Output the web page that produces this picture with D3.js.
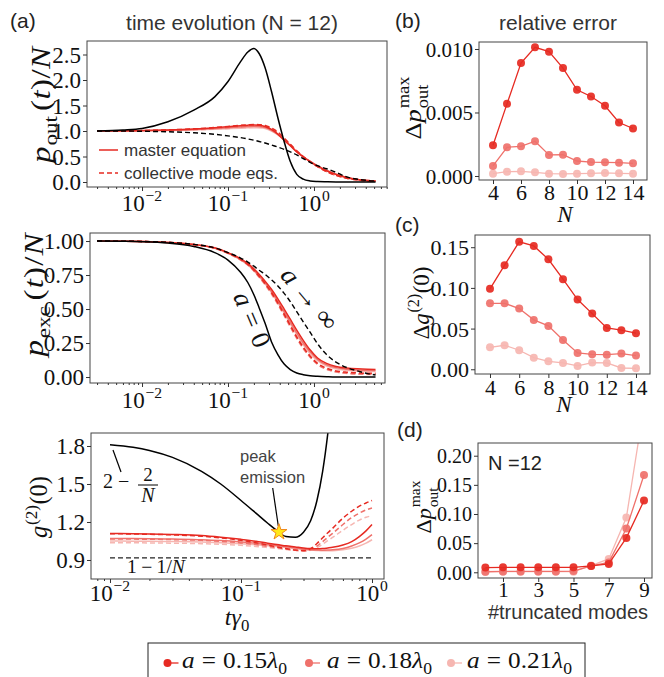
<!DOCTYPE html>
<html><head><meta charset="utf-8">
<script src="https://cdn.jsdelivr.net/npm/d3@7"></script>
<style>body{margin:0;background:#fff}</style>
</head><body>
<script>
// ---------------- DATA ----------------
// time grid for panels (a) top and middle
const T = [0.003,0.006,0.01,0.02,0.04,0.07,0.1,0.14,0.17,0.2,0.23,0.27,0.32,0.38,0.45,0.53,0.63,0.75,0.9,1.1,1.4,1.8,2.4,3.2,4.2,5.2];
// p_out(t)/N
const poutA0  = [1.00,1.02,1.05,1.18,1.41,1.67,1.97,2.36,2.55,2.62,2.52,2.24,1.78,1.26,0.79,0.40,0.15,0.055,0.02,0.008,0.003,0,0,0,0,0];
const poutInf = [1.0,1.0,0.995,0.985,0.965,0.935,0.905,0.87,0.845,0.82,0.795,0.765,0.725,0.685,0.64,0.59,0.53,0.46,0.385,0.32,0.26,0.19,0.10,0.055,0.03,0.018];
const poutMe15 = [1.0,1.003,1.008,1.02,1.04,1.065,1.085,1.105,1.115,1.12,1.115,1.09,1.03,0.94,0.82,0.71,0.59,0.49,0.40,0.31,0.22,0.15,0.09,0.05,0.03,0.02];
const poutCm15 = [1.0,1.003,1.008,1.021,1.042,1.068,1.09,1.11,1.12,1.127,1.125,1.11,1.06,0.98,0.86,0.74,0.61,0.50,0.40,0.30,0.205,0.13,0.075,0.04,0.022,0.013];
const poutMe18 = [1.0,1.002,1.006,1.015,1.03,1.05,1.065,1.08,1.088,1.092,1.088,1.068,1.015,0.935,0.825,0.715,0.595,0.495,0.405,0.315,0.225,0.152,0.09,0.05,0.03,0.02];
const poutCm18 = [1.0,1.002,1.006,1.016,1.032,1.052,1.068,1.085,1.095,1.10,1.098,1.085,1.04,0.965,0.85,0.735,0.605,0.495,0.40,0.30,0.205,0.13,0.075,0.04,0.022,0.013];
const poutMe21 = [1.0,1.001,1.004,1.01,1.02,1.035,1.045,1.055,1.062,1.065,1.062,1.047,1.0,0.925,0.82,0.715,0.6,0.5,0.41,0.32,0.23,0.155,0.092,0.05,0.03,0.02];
const poutCm21 = [1.0,1.001,1.004,1.011,1.022,1.037,1.048,1.06,1.068,1.072,1.07,1.06,1.02,0.95,0.84,0.73,0.605,0.495,0.40,0.30,0.205,0.13,0.075,0.04,0.022,0.013];
// p_exc(t)/N
const pexcA0  = [1.0,0.998,0.995,0.985,0.96,0.915,0.86,0.77,0.695,0.605,0.51,0.395,0.26,0.165,0.095,0.055,0.03,0.017,0.009,0.005,0.002,0,0,0,0,0];
const pexcInf = [1.0,0.999,0.997,0.99,0.975,0.95,0.915,0.875,0.845,0.815,0.785,0.755,0.715,0.67,0.615,0.555,0.48,0.405,0.33,0.245,0.165,0.11,0.07,0.045,0.025,0.015];
const pexcMe15 = [1.0,0.999,0.997,0.99,0.975,0.95,0.915,0.87,0.835,0.795,0.755,0.705,0.645,0.575,0.50,0.425,0.345,0.27,0.20,0.14,0.10,0.078,0.066,0.06,0.057,0.056];
const pexcMe18 = [1.0,0.999,0.997,0.99,0.974,0.948,0.912,0.865,0.828,0.787,0.745,0.693,0.63,0.558,0.48,0.405,0.325,0.25,0.185,0.13,0.09,0.069,0.057,0.051,0.048,0.047];
const pexcMe21 = [1.0,0.999,0.997,0.99,0.974,0.947,0.91,0.862,0.824,0.782,0.738,0.685,0.62,0.545,0.468,0.39,0.31,0.236,0.172,0.12,0.08,0.06,0.049,0.043,0.041,0.04];
const pexcCm15 = [1.0,0.999,0.997,0.99,0.974,0.948,0.912,0.865,0.828,0.786,0.742,0.688,0.622,0.545,0.463,0.38,0.295,0.22,0.155,0.1,0.065,0.045,0.035,0.03,0.028,0.027];
const pexcCm18 = [1.0,0.999,0.997,0.99,0.974,0.947,0.91,0.862,0.825,0.782,0.737,0.682,0.615,0.537,0.455,0.372,0.288,0.212,0.148,0.094,0.058,0.038,0.028,0.023,0.021,0.02];
const pexcCm21 = [1.0,0.999,0.997,0.99,0.973,0.946,0.908,0.86,0.822,0.779,0.733,0.677,0.61,0.532,0.45,0.367,0.283,0.208,0.145,0.092,0.056,0.036,0.026,0.021,0.019,0.018];
// g2(0) time grid and curves
const T3 = [0.01,0.015,0.02,0.03,0.05,0.07,0.1,0.13,0.16,0.195,0.22,0.26,0.3,0.34,0.38,0.42,0.46,0.5,0.6,0.7,0.8,0.9,1.0];
const g2A0  = [1.81,1.79,1.765,1.71,1.60,1.50,1.37,1.27,1.19,1.12,1.085,1.08,1.12,1.21,1.37,1.60,1.90,2.25,null,null,null,null,null];
const g2Me15 = [1.11,1.108,1.106,1.102,1.093,1.08,1.063,1.048,1.033,1.02,1.012,1.003,0.995,0.99,0.988,0.99,0.995,1.0,1.018,1.045,1.085,1.13,1.18];
const g2Cm15 = [1.108,1.105,1.103,1.098,1.088,1.075,1.055,1.037,1.018,1.0,0.99,0.978,0.975,0.99,1.03,1.075,1.115,1.15,1.23,1.285,1.325,1.35,1.37];
const g2Me18 = [1.07,1.069,1.068,1.065,1.06,1.053,1.042,1.032,1.022,1.012,1.005,0.995,0.987,0.981,0.978,0.977,0.978,0.98,0.99,1.01,1.035,1.065,1.10];
const g2Cm18 = [1.066,1.065,1.064,1.061,1.055,1.047,1.035,1.022,1.008,0.995,0.987,0.977,0.972,0.98,1.01,1.045,1.08,1.11,1.18,1.235,1.27,1.295,1.31];
const g2Me21 = [1.05,1.049,1.048,1.046,1.042,1.037,1.029,1.021,1.013,1.004,0.998,0.99,0.983,0.978,0.975,0.973,0.973,0.974,0.98,0.992,1.01,1.033,1.06];
const g2Cm21 = [1.037,1.036,1.035,1.033,1.029,1.024,1.016,1.007,0.998,0.989,0.983,0.976,0.972,0.976,0.997,1.025,1.053,1.078,1.135,1.18,1.215,1.237,1.25];
const g2UncT = [0.01, 1.0];
const g2Unc  = [0.917, 0.917];          // 1 - 1/N, N = 12
const peakT = 0.195, peakG2 = 1.12;     // peak emission marker
// panel (b): relative error of p_out max vs N
const Nvals = [4,5,6,7,8,9,10,11,12,13,14];
const dpout15 = [0.00242,0.00568,0.00889,0.01013,0.00979,0.0085,0.00679,0.00626,0.00553,0.00421,0.00374];
const dpout18 = [0.00079,0.00226,0.00234,0.00274,0.00166,0.00168,0.00118,0.0011,0.00108,0.00105,0.0010];
const dpout21 = [0.00018,0.00034,0.00037,0.00029,0.00018,0.00016,0.00018,0.00021,0.00024,0.00021,0.00018];
// panel (c): relative error of g2(0) vs N
const dg2_15 = [0.0988,0.1279,0.1566,0.1516,0.1352,0.1107,0.0857,0.0684,0.0508,0.048,0.0443];
const dg2_18 = [0.0811,0.0811,0.0746,0.0607,0.0533,0.036,0.0201,0.0184,0.018,0.0193,0.0168];
const dg2_21 = [0.027,0.0295,0.0234,0.0143,0.0098,0.0078,0.0041,0.0082,0.0078,0.0016,0.0012];
// panel (d): error vs number of truncated modes (N = 12)
const modes = [0,1,2,3,4,5,6,7,8,9];
const dtr15 = [0.008,0.0085,0.0085,0.0085,0.0085,0.0085,0.011,0.0143,0.059,0.123];
const dtr18 = [0.001,0.0015,0.0015,0.0015,0.0015,0.002,0.011,0.017,0.075,0.167];
const dtr21 = [0.0005,0.001,0.001,0.001,0.001,0.001,0.0115,0.023,0.094,0.285];
// tick values
const logExps = [-2,-1,0];
const yT1 = [0,0.5,1.0,1.5,2.0,2.5];
const yT2 = [0,0.25,0.5,0.75,1.0];
const yT3 = [0.9,1.2,1.5,1.8];
const yTb = [0,0.005,0.010];
const yTc = [0,0.05,0.10,0.15];
const yTd = [0,0.05,0.10,0.15,0.20];
const xTbc = [4,6,8,10,12,14];
const xTd = [1,3,5,7,9];
const legendA = ['0.15','0.18','0.21'];

// ---------------- STYLE / LAYOUT ----------------
const W=664,H=677;
const SERIF='"Liberation Serif", "DejaVu Serif", serif';
const SANS='"Liberation Sans", "DejaVu Sans", sans-serif';
const C15='#e62a22', C18='#ef716b', C21='#f6b6b1';
const INK='#111', GRAY='#333';

const svg=d3.select('body').append('svg').attr('width',W).attr('height',H);
const defs=svg.append('defs');
let clipN=0;

function mlayout(g,pieces,size,fam,extra){
  g.selectAll('text').remove();
  let cx=0,last=0,first=true;
  for(const p of pieces){
    const t=g.append('text').style('font-family',p.f||fam).style('font-size',(size*(p.r||1))+'px')
      .style('font-style',p.i?'italic':'normal').attr('y',(p.dy||0)*size).text(p.t);
    let x0;
    if(p.stack) x0=last; else {x0=cx+(p.g||0)*size+(first?0:extra); last=x0;}
    first=false;
    t.attr('x',x0);
    cx=Math.max(cx,x0+t.node().getComputedTextLength());
  }
  return cx;
}
function mathText(parent,o){
  const outer=parent.append('g').attr('transform',`translate(${o.x},${o.y}) rotate(${o.rot||0})`).attr('fill',o.fill||INK);
  const inner=outer.append('g');
  const fam=o.fam||SERIF;
  let size=o.size;
  let w=mlayout(inner,o.pieces,size,fam,0), sx=1;
  if(o.target){
    let ratio=o.target/w;
    if(ratio>1.1){
      size=size*Math.min(ratio,1.1); w=mlayout(inner,o.pieces,size,fam,0); ratio=o.target/w;
      if(ratio>1.2){
        sx=1.2; const n=o.pieces.filter(p=>!p.stack).length-1;
        w=mlayout(inner,o.pieces,size,fam,(o.target/sx-w)/Math.max(n,1));
      } else sx=ratio;
    } else sx=ratio;
  }
  const frac=o.anchor==='start'?0:o.anchor==='end'?1:0.5;
  inner.attr('transform',`scale(${sx},1) translate(${-w*frac},0)`);
  return outer;
}
function makePanel(p){
  const x=(p.log?d3.scaleLog():d3.scaleLinear()).domain(p.xd).range([p.x0,p.x1]);
  const y=d3.scaleLinear().domain(p.yd).range([p.y1,p.y0]);
  const id='clip'+(clipN++);
  defs.append('clipPath').attr('id',id).append('rect').attr('x',p.x0).attr('y',p.y0).attr('width',p.x1-p.x0).attr('height',p.y1-p.y0);
  const plot=svg.append('g').attr('clip-path',`url(#${id})`);
  return {x,y,plot,p};
}
function frame(P){
  svg.append('rect').attr('x',P.p.x0).attr('y',P.p.y0).attr('width',P.p.x1-P.p.x0).attr('height',P.p.y1-P.p.y0)
    .attr('fill','none').attr('stroke','#444').attr('stroke-width',1);
}
function styleTicks(g,fs){
  g.select('.domain').remove();
  g.selectAll('line').attr('stroke','#333');
  g.selectAll('text').style('font-family',SERIF).style('font-size',fs+'px').attr('fill',INK);
}
function yAxis(P,vals,fmt,fs){
  const g=svg.append('g').attr('transform',`translate(${P.p.x0},0)`)
    .call(d3.axisLeft(P.y).tickValues(vals).tickFormat(fmt).tickSize(4).tickPadding(2));
  styleTicks(g,fs);
  g.selectAll('text').attr('dy','0.34em');
}
function xAxisLin(P,vals,fs,base){
  const g=svg.append('g').attr('transform',`translate(0,${P.p.y1})`)
    .call(d3.axisBottom(P.x).tickValues(vals).tickFormat(d3.format('d')).tickSize(4));
  styleTicks(g,fs);
  g.selectAll('text').attr('y',base-P.p.y1).attr('dy',0);
}
function xAxisLog(P,base){
  const [a,b]=P.x.domain();
  const minors=[];
  for(let e=Math.floor(Math.log10(a));e<=Math.ceil(Math.log10(b));e++)
    for(let k=2;k<=9;k++){const v=k*Math.pow(10,e); if(v>=a&&v<=b) minors.push(v);}
  const majors=logExps.map(e=>Math.pow(10,e));
  const g1=svg.append('g').attr('transform',`translate(0,${P.p.y1})`)
    .call(d3.axisBottom(P.x).tickValues(minors).tickFormat('').tickSize(2));
  const g2=svg.append('g').attr('transform',`translate(0,${P.p.y1})`)
    .call(d3.axisBottom(P.x).tickValues(majors).tickFormat('').tickSize(4));
  [g1,g2].forEach(g=>{g.select('.domain').remove();g.selectAll('line').attr('stroke','#333');});
  logExps.forEach(e=>{
    mathText(svg,{x:P.x(Math.pow(10,e)),y:base,size:23,anchor:'middle',
      pieces:[{t:'10'},{t:(e<0?'\u2212':'')+Math.abs(e),r:0.68,dy:-0.45,g:0.03}]});
  });
}
function curve(P,xs,ys,color,dash,w){
  P.plot.append('path').datum(d3.zip(xs,ys))
    .attr('d',d3.line().defined(d=>d[1]!=null).x(d=>P.x(d[0])).y(d=>P.y(d[1])).curve(d3.curveMonotoneX))
    .attr('fill','none').attr('stroke',color).attr('stroke-width',w||1.5)
    .attr('stroke-dasharray',dash?'5,3':null);
}
function series(P,xs,ys,color){
  const data=d3.zip(xs,ys);
  P.plot.append('path').datum(data).attr('d',d3.line().x(d=>P.x(d[0])).y(d=>P.y(d[1])))
    .attr('fill','none').attr('stroke',color).attr('stroke-width',1.3);
  P.plot.selectAll(null).data(data).join('circle').attr('cx',d=>P.x(d[0])).attr('cy',d=>P.y(d[1]))
    .attr('r',4).attr('fill',color).attr('fill-opacity',0.92);
}
function label(x,y,txt,fs,opts={}){
  return svg.append('text').attr('x',x).attr('y',y).style('font-family',opts.fam||SANS).style('font-size',fs+'px')
    .attr('fill',opts.fill||GRAY).attr('text-anchor',opts.anchor||'start').text(txt);
}

// ---------------- PANEL (a) top: p_out ----------------
const P1=makePanel({log:true,x0:87,x1:387,y0:41,y1:187,xd:[Math.pow(10,-2.64),Math.pow(10,0.849)],yd:[-0.098,2.765]});
curve(P1,T,poutMe21,C21); curve(P1,T,poutCm21,C21,true);
curve(P1,T,poutMe18,C18); curve(P1,T,poutCm18,C18,true);
curve(P1,T,poutMe15,C15); curve(P1,T,poutCm15,C15,true);
curve(P1,T,poutInf,'#000',true,1.4);
curve(P1,T,poutA0,'#000',false,1.5);
frame(P1); yAxis(P1,yT1,d3.format('.1f'),23); xAxisLog(P1,211);
svg.append('line').attr('x1',99).attr('x2',118).attr('y1',150).attr('y2',150).attr('stroke',C15).attr('stroke-width',1.5);
svg.append('line').attr('x1',99).attr('x2',118).attr('y1',173).attr('y2',173).attr('stroke',C15).attr('stroke-width',1.5).attr('stroke-dasharray','5,3');
label(124,156,'master equation',17);
label(124,179,'collective mode eqs.',17);
mathText(svg,{x:50,y:105,rot:-90,size:25,target:116,anchor:'middle',
  pieces:[{t:'p',i:1},{t:'out',r:0.7,dy:0.25,g:0.02},{t:'(',g:0.14},{t:'t',i:1},{t:')'},{t:'/'},{t:'N',i:1}]});

// ---------------- PANEL (a) middle: p_exc ----------------
const P2=makePanel({log:true,x0:90,x1:385,y0:233,y1:383,xd:[Math.pow(10,-2.605),Math.pow(10,0.826)],yd:[-0.044,1.059]});
curve(P2,T,pexcMe21,C21); curve(P2,T,pexcCm21,C21,true);
curve(P2,T,pexcMe18,C18); curve(P2,T,pexcCm18,C18,true);
curve(P2,T,pexcMe15,C15); curve(P2,T,pexcCm15,C15,true);
curve(P2,T,pexcInf,'#000',true,1.4);
curve(P2,T,pexcA0,'#000',false,1.5);
frame(P2); yAxis(P2,yT2,d3.format('.2f'),23); xAxisLog(P2,408);
mathText(svg,{x:43,y:295,rot:-90,size:25,target:123,anchor:'middle',
  pieces:[{t:'p',i:1},{t:'exc',r:0.7,dy:0.25,g:0.02},{t:'(',g:0.14},{t:'t',i:1},{t:')'},{t:'/'},{t:'N',i:1}]});
mathText(svg,{x:244,y:323,rot:67,size:24,target:58,anchor:'middle',
  pieces:[{t:'a',i:1},{t:'=',g:0.3},{t:'0',g:0.3}]});
mathText(svg,{x:303,y:304,rot:50,size:26,target:74,anchor:'middle',
  pieces:[{t:'a',i:1},{t:'\u2192',g:0.2},{t:'\u221E',g:0.2}]});

// ---------------- PANEL (a) bottom: g2(0) ----------------
const P3=makePanel({log:true,x0:91,x1:384,y0:433,y1:579,xd:[Math.pow(10,-2.145),Math.pow(10,0.0916)],yd:[0.75,1.9026]});
curve(P3,g2UncT,g2Unc,'#222',true,1.4);
curve(P3,T3,g2Me21,C21); curve(P3,T3,g2Cm21,C21,true);
curve(P3,T3,g2Me18,C18); curve(P3,T3,g2Cm18,C18,true);
curve(P3,T3,g2Me15,C15); curve(P3,T3,g2Cm15,C15,true);
curve(P3,T3,g2A0,'#000',false,1.5);
frame(P3); yAxis(P3,yT3,d3.format('.1f'),23); xAxisLog(P3,601);
mathText(svg,{x:47,y:507,rot:-90,size:25,target:62,anchor:'middle',
  pieces:[{t:'g',i:1},{t:'(2)',r:0.7,dy:-0.42,g:0.03},{t:'(0)',g:0.02}]});
mathText(svg,{x:237,y:625,size:24,anchor:'middle',pieces:[{t:'t',i:1},{t:'\u03B3',i:1},{t:'0',r:0.7,dy:0.25}]});
// annotations
svg.append('line').attr('x1',113).attr('y1',450).attr('x2',121).attr('y2',472).attr('stroke','#000').attr('stroke-width',1.2);
mathText(svg,{x:103,y:488,size:20,anchor:'start',pieces:[{t:'2'},{t:'\u2212',g:0.25}]});
mathText(svg,{x:148,y:481,size:19,anchor:'middle',pieces:[{t:'2'}]});
svg.append('line').attr('x1',138).attr('x2',158).attr('y1',485).attr('y2',485).attr('stroke','#000').attr('stroke-width',1);
mathText(svg,{x:148,y:502,size:20,anchor:'middle',pieces:[{t:'N',i:1}]});
mathText(svg,{x:127,y:573,size:18,target:58,anchor:'start',
  pieces:[{t:'1'},{t:'\u2212',g:0.22},{t:'1',g:0.22},{t:'/'},{t:'N',i:1}]});
label(240,462,'peak',16.5,{fill:'#444'});
label(240,483,'emission',16.5,{fill:'#444'});
svg.append('line').attr('x1',272.7).attr('y1',488).attr('x2',278.3).attr('y2',526).attr('stroke','#000').attr('stroke-width',1.2);
svg.append('path').attr('d',d3.symbol(d3.symbolStar,80)()).attr('transform',`translate(${P3.x(peakT)},${P3.y(peakG2)})`)
  .attr('fill','#ffe81a').attr('stroke','#f08a1c').attr('stroke-width',1);

// ---------------- PANEL (b) ----------------
const Pb=makePanel({x0:479,x1:647,y0:42,y1:180,xd:[3,15],yd:[-0.000315,0.01055]});
series(Pb,Nvals,dpout21,C21); series(Pb,Nvals,dpout18,C18); series(Pb,Nvals,dpout15,C15);
frame(Pb); yAxis(Pb,yTb,d3.format('.3f'),21); xAxisLin(Pb,xTbc,22,200);
mathText(svg,{x:421,y:108,rot:-90,size:24,target:63,anchor:'middle',
  pieces:[{t:'\u0394'},{t:'p',i:1},{t:'max',r:0.7,dy:-0.5,g:0.04},{t:'out',r:0.7,dy:0.3,stack:1}]});
mathText(svg,{x:565,y:222,size:23,anchor:'middle',pieces:[{t:'N',i:1}]});

// ---------------- PANEL (c) ----------------
const Pc=makePanel({x0:475,x1:650,y0:235,y1:374,xd:[2.973,14.96],yd:[-0.0058,0.165]});
series(Pc,Nvals,dg2_21,C21); series(Pc,Nvals,dg2_18,C18); series(Pc,Nvals,dg2_15,C15);
frame(Pc); yAxis(Pc,yTc,d3.format('.2f'),22); xAxisLin(Pc,xTbc,22,395);
mathText(svg,{x:429,y:303,rot:-90,size:24,target:73,anchor:'middle',
  pieces:[{t:'\u0394'},{t:'g',i:1},{t:'(2)',r:0.7,dy:-0.42,g:0.03},{t:'(0)',g:0.02}]});
mathText(svg,{x:564,y:412,size:23,anchor:'middle',pieces:[{t:'N',i:1}]});

// ---------------- PANEL (d) ----------------
const Pd=makePanel({x0:478,x1:652,y0:443,y1:578,xd:[-0.418,9.454],yd:[-0.0098,0.2218]});
series(Pd,modes,dtr21,C21); series(Pd,modes,dtr18,C18); series(Pd,modes,dtr15,C15);
frame(Pd); yAxis(Pd,yTd,d3.format('.2f'),20); xAxisLin(Pd,xTd,21,597);
mathText(svg,{x:431,y:507,rot:-90,size:22,target:53,anchor:'middle',
  pieces:[{t:'\u0394'},{t:'p',i:1},{t:'max',r:0.7,dy:-0.5,g:0.04},{t:'out',r:0.7,dy:0.3,stack:1}]});
label(488,470,'N =12',20,{fill:'#222'});
label(568,619,'#truncated modes',20,{anchor:'middle'});

// ---------------- titles ----------------
label(10,28,'(a)',21,{fill:'#222'});
label(232,30,'time evolution (N = 12)',21,{anchor:'middle'});
label(395,28,'(b)',21,{fill:'#222'});
label(558,30,'relative error',21,{anchor:'middle'});
label(395,232,'(c)',21,{fill:'#222'});
label(397,437,'(d)',21,{fill:'#222'});

// ---------------- legend ----------------
svg.append('rect').attr('x',148).attr('y',643).attr('width',437).attr('height',42).attr('fill','none').attr('stroke','#222').attr('stroke-width',1);
const legCols=[C15,C18,C21], legDot=[167.5,309,451], legTxt=[182,327,467];
legendA.forEach((a,i)=>{
  svg.append('line').attr('x1',legDot[i]).attr('x2',legDot[i]+11).attr('y1',663).attr('y2',663).attr('stroke',legCols[i]).attr('stroke-width',1.3);
  svg.append('circle').attr('cx',legDot[i]).attr('cy',663).attr('r',4).attr('fill',legCols[i]);
  mathText(svg,{x:legTxt[i],y:668,size:23,target:105,anchor:'start',
    pieces:[{t:'a',i:1},{t:'=',g:0.28},{t:a,g:0.28},{t:'\u03BB',i:1},{t:'0',r:0.7,dy:0.25}]});
});
</script>
</body></html>
